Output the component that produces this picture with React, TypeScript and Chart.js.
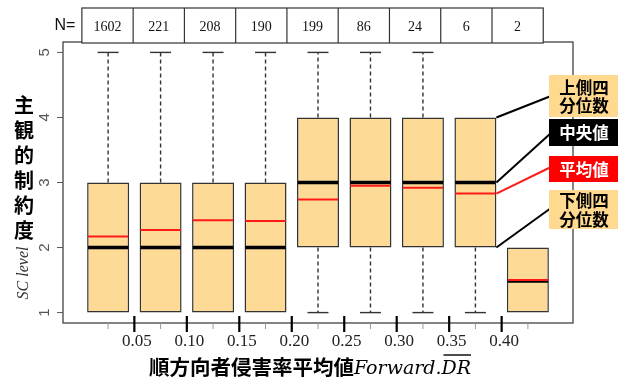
import React, { useEffect, useRef } from 'react';
import { Chart, registerables } from 'chart.js';

Chart.register(...registerables);

// Sample sizes per group (shown in the N= strip above the plot)
const groupCounts = [1602, 221, 208, 190, 199, 86, 24, 6, 2];
// Five-number summaries of the SC level per group
const lowerWhisker = [1, 1, 1, 1, 1, 1, 1, 1, 1];
const lowerQuartile = [1, 1, 1, 1, 2, 2, 2, 2, 1];
const medianValues = [2, 2, 2, 2, 3, 3, 3, 3, 1.5];
const upperQuartile = [3, 3, 3, 3, 4, 4, 4, 4, 2];
const upperWhisker = [5, 5, 5, 5, 5, 5, 5, 4, 2];
const meanValues = [2.17, 2.27, 2.42, 2.41, 2.74, 2.95, 2.92, 2.83, 1.5];
// Class boundaries of Forward.DR, sitting between neighbouring boxes
const boundaryLabels = ['0.05', '0.10', '0.15', '0.20', '0.25', '0.30', '0.35', '0.40'];
const yTickValues = [1, 2, 3, 4, 5];

const CJK = '"Noto Sans CJK JP"';
const BOX_FILL = '#FDDA96';
const EDGE = '#333333';

const boxPlotDecor = {
  id: 'boxPlotDecor',
  afterDatasetsDraw(chart: any) {
    const { ctx, chartArea: area } = chart;
    const xs = chart.scales.x;
    const ys = chart.scales.y;
    const bars = chart.getDatasetMeta(0).data;

    ctx.save();

    // whiskers and staples
    bars.forEach((bar: any, i: number) => {
      const cx = bar.x;
      const half = bar.width / 4;
      ctx.strokeStyle = EDGE;
      ctx.lineWidth = 1.4;
      const pairs: [number, number][] = [
        [upperQuartile[i], upperWhisker[i]],
        [lowerQuartile[i], lowerWhisker[i]],
      ];
      pairs.forEach(([from, to]) => {
        if (from === to) return;
        ctx.setLineDash([4, 3]);
        ctx.beginPath();
        ctx.moveTo(cx, ys.getPixelForValue(from));
        ctx.lineTo(cx, ys.getPixelForValue(to));
        ctx.stroke();
        ctx.setLineDash([]);
        const py = ys.getPixelForValue(to);
        ctx.beginPath();
        ctx.moveTo(cx - half, py);
        ctx.lineTo(cx + half, py);
        ctx.stroke();
      });
    });

    // medians (black) and means (red)
    bars.forEach((bar: any, i: number) => {
      const l = bar.x - bar.width / 2 + 0.8;
      const r = bar.x + bar.width / 2 - 0.8;
      ctx.strokeStyle = '#000000';
      ctx.lineWidth = 3.5;
      const shift = medianValues[i] === meanValues[i] ? 1 : 0;
      const my = ys.getPixelForValue(medianValues[i]) + shift;
      ctx.beginPath();
      ctx.moveTo(l, my);
      ctx.lineTo(r, my);
      ctx.stroke();
      ctx.strokeStyle = '#FF1A1A';
      ctx.lineWidth = 2;
      const ay = ys.getPixelForValue(meanValues[i]);
      ctx.beginPath();
      ctx.moveTo(l, ay);
      ctx.lineTo(r, ay);
      ctx.stroke();
    });

    // plot frame
    ctx.strokeStyle = EDGE;
    ctx.lineWidth = 1.2;
    ctx.strokeRect(area.left, area.top, area.right - area.left, area.bottom - area.top);

    // y axis ticks and rotated labels
    ctx.fillStyle = '#555555';
    ctx.font = '15px "Liberation Sans"';
    ctx.textAlign = 'center';
    ctx.textBaseline = 'middle';
    yTickValues.forEach((v) => {
      const py = ys.getPixelForValue(v);
      ctx.strokeStyle = '#555555';
      ctx.lineWidth = 1;
      ctx.beginPath();
      ctx.moveTo(area.left - 6, py);
      ctx.lineTo(area.left, py);
      ctx.stroke();
      ctx.save();
      ctx.translate(area.left - 18, py);
      ctx.rotate(-Math.PI / 2);
      ctx.fillText(String(v), 0, 0);
      ctx.restore();
    });

    // minor ticks at group centres
    ctx.strokeStyle = '#9a9a9a';
    ctx.lineWidth = 1;
    groupCounts.forEach((_, i) => {
      const px = xs.getPixelForValue(i + 1);
      ctx.beginPath();
      ctx.moveTo(px, area.bottom);
      ctx.lineTo(px, area.bottom + 6);
      ctx.stroke();
    });

    // boundary ticks and labels
    ctx.font = '17px "Liberation Serif"';
    ctx.fillStyle = '#222222';
    boundaryLabels.forEach((lab, k) => {
      const px = xs.getPixelForValue(k + 1.5);
      ctx.strokeStyle = '#000000';
      ctx.lineWidth = 2.2;
      ctx.beginPath();
      ctx.moveTo(px, area.bottom - 7);
      ctx.lineTo(px, area.bottom + 9);
      ctx.stroke();
      ctx.fillText(lab, px + 2.5, area.bottom + 19);
    });

    // x axis title: CJK text followed by Forward.DR with an overline on DR
    const titleCjk = '順方向者侵害率平均値';
    const titleVar = 'Forward.';
    const titleBar = 'DR';
    ctx.font = `bold 20.5px ${CJK}`;
    const w1 = ctx.measureText(titleCjk).width;
    ctx.font = 'italic 19px "DejaVu Serif"';
    const w2 = ctx.measureText(titleVar).width;
    const w3 = ctx.measureText(titleBar).width;
    const startX = 310 - (w1 + w2 + w3) / 2;
    ctx.fillStyle = '#000000';
    ctx.textAlign = 'left';
    ctx.font = `bold 20.5px ${CJK}`;
    ctx.textBaseline = 'middle';
    ctx.fillText(titleCjk, startX, 367);
    ctx.font = 'italic 19px "DejaVu Serif"';
    ctx.textBaseline = 'alphabetic';
    ctx.fillText(titleVar, startX + w1, 373.5);
    ctx.fillText(titleBar, startX + w1 + w2, 373.5);
    ctx.strokeStyle = '#000000';
    ctx.lineWidth = 1.4;
    ctx.beginPath();
    ctx.moveTo(startX + w1 + w2 + 2, 355);
    ctx.lineTo(startX + w1 + w2 + w3, 355);
    ctx.stroke();

    // y axis title: stacked CJK characters and the rotated variable name
    ctx.font = `bold 20px ${CJK}`;
    ctx.textAlign = 'center';
    ctx.textBaseline = 'middle';
    Array.from('主観的制約度').forEach((ch, k) => {
      ctx.fillText(ch, 24, 105 + k * 25);
    });
    ctx.save();
    ctx.translate(24, 273);
    ctx.rotate(-Math.PI / 2);
    ctx.fillStyle = '#333333';
    ctx.font = 'italic 16px "Liberation Serif"';
    ctx.fillText('SC level', 0, 0);
    ctx.restore();

    // N= strip
    const stripLeft = xs.getPixelForValue(0.5);
    const cellW = ((xs.getPixelForValue(9.5) - stripLeft) / 9) * 0.977;
    const stripTop = 8;
    const stripBottom = 43;
    ctx.fillStyle = '#ffffff';
    ctx.fillRect(stripLeft, stripTop, cellW * 9, stripBottom - stripTop);
    ctx.strokeStyle = EDGE;
    ctx.lineWidth = 1.2;
    ctx.strokeRect(stripLeft, stripTop, cellW * 9, stripBottom - stripTop);
    ctx.fillStyle = '#111111';
    ctx.font = '14px "Liberation Serif"';
    groupCounts.forEach((n, i) => {
      const cl = stripLeft + i * cellW;
      if (i > 0) {
        ctx.beginPath();
        ctx.moveTo(cl, stripTop);
        ctx.lineTo(cl, stripBottom);
        ctx.stroke();
      }
      ctx.fillText(String(n), cl + cellW / 2, 27);
    });
    ctx.font = '16px "Liberation Sans"';
    ctx.fillText('N=', 65, 26);

    // callouts explaining the parts of a box (anchored on the 8th box)
    const ref = bars[7];
    const bx = ref.x + ref.width / 2;
    const lx = 549;
    const callouts = [
      { v: upperQuartile[7], ty: 96, color: '#000000' },
      { v: medianValues[7], ty: 133, color: '#000000' },
      { v: meanValues[7], ty: 167, color: '#FF1A1A' },
      { v: lowerQuartile[7], ty: 208, color: '#000000' },
    ];
    callouts.forEach((c) => {
      ctx.strokeStyle = c.color;
      ctx.lineWidth = 2;
      ctx.beginPath();
      ctx.moveTo(bx, ys.getPixelForValue(c.v));
      ctx.lineTo(lx + 2, c.ty);
      ctx.stroke();
    });

    const tags = [
      { top: 75, h: 42, fill: '#FFD98F', color: '#000000', lines: ['上側四', '分位数'] },
      { top: 119, h: 27, fill: '#000000', color: '#ffffff', lines: ['中央値'] },
      { top: 156, h: 26, fill: '#FF0000', color: '#ffffff', lines: ['平均値'] },
      { top: 190, h: 39, fill: '#FFD98F', color: '#000000', lines: ['下側四', '分位数'] },
    ];
    ctx.font = `bold 16.5px ${CJK}`;
    tags.forEach((t) => {
      ctx.fillStyle = t.fill;
      ctx.fillRect(lx, t.top, 69, t.h);
      ctx.fillStyle = t.color;
      const mid = t.top + t.h / 2;
      t.lines.forEach((s, k) => {
        const off = (k - (t.lines.length - 1) / 2) * 18.5;
        ctx.fillText(s, lx + 35, mid + off + 0.5);
      });
    });

    ctx.restore();
  },
};

export default function App() {
  const canvasRef = useRef<HTMLCanvasElement | null>(null);

  useEffect(() => {
    const canvas = canvasRef.current;
    if (!canvas) return;
    const chart = new Chart(canvas, {
      type: 'bar',
      data: {
        datasets: [
          {
            data: groupCounts.map((_, i) => ({ x: i + 1, y: [lowerQuartile[i], upperQuartile[i]] })) as any,
            backgroundColor: BOX_FILL,
            borderColor: EDGE,
            borderWidth: 1.5,
            borderSkipped: false,
            barPercentage: 0.8,
            categoryPercentage: 1,
          },
        ],
      },
      options: {
        responsive: false,
        maintainAspectRatio: false,
        devicePixelRatio: 1,
        animation: false,
        events: [],
        layout: { padding: { left: 63, right: 51, top: 42, bottom: 58 } },
        scales: {
          x: {
            type: 'linear',
            min: 0.14,
            max: 9.86,
            offset: false,
            display: false,
            // one tick per group so the bar width follows the group spacing
            afterBuildTicks: (scale: any) => {
              scale.ticks = groupCounts.map((_, i) => ({ value: i + 1 }));
            },
          },
          y: { type: 'linear', min: 0.84, max: 5.16, display: false },
        },
        plugins: {
          legend: { display: false },
          tooltip: { enabled: false },
        },
      },
      plugins: [boxPlotDecor],
    });
    return () => chart.destroy();
  }, []);

  return (
    <div style={{ position: 'fixed', left: 0, top: 0, width: 624, height: 381, background: '#ffffff' }}>
      <canvas ref={canvasRef} width={624} height={381} style={{ display: 'block' }} />
    </div>
  );
}
